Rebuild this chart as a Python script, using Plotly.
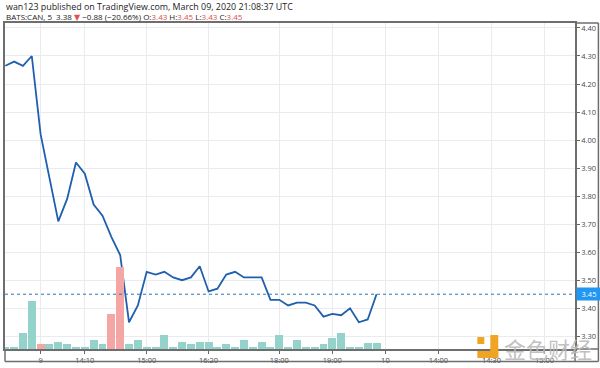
import plotly.graph_objects as go

# ---- data (5-minute bars, index-based x like TradingView) ----
price = [4.265, 4.28, 4.265, 4.30, 4.02, 3.86, 3.71, 3.79, 3.92, 3.88,
         3.77, 3.73, 3.655, 3.59, 3.35, 3.41, 3.53, 3.52, 3.53, 3.51,
         3.50, 3.51, 3.55, 3.46, 3.47, 3.52, 3.53, 3.51, 3.51, 3.51,
         3.43, 3.43, 3.41, 3.42, 3.42, 3.41, 3.37, 3.38, 3.375, 3.40,
         3.35, 3.36, 3.45]
volume = [1700, 1700, 16000, 48000, 4700, 4700, 6700, 4700, 2000, 2000,
          9000, 4700, 35000, 82000, 5500, 9000, 1700, 1700, 14000, 1700,
          6700, 4700, 6700, 6700, 1700, 4700, 1700, 8700, 1700, 6700,
          1700, 14000, 1700, 8700, 1700, 1700, 4700, 11300, 16000, 1700,
          1700, 6300, 6300]
down_bars = [4, 12, 13]
x_tick_pos = [4, 9, 16, 23, 31, 37, 43, 49, 55, 61]
x_tick_text = ["9", "14:10", "15:00", "16:20", "18:00", "19:00", "10", "14:00", "14:30", "15:00"]
y_ticks = [3.30, 3.40, 3.50, 3.60, 3.70, 3.80, 3.90, 4.00, 4.10, 4.20, 4.30, 4.40]
last_price = 3.45

idx = list(range(len(price)))
bar_colors = ["#f5a5a3" if i in down_bars else "#93d3cc" for i in idx]

# ---- geometry helpers (pixels -> paper) ----
W, H = 600, 368
L, R, T, B = 3, 25, 23, 18
PW, PH = W - L - R, H - T - B
def px(p):
    return (p - L) / PW
def py(q):
    return (H - B - q) / PH

fig = go.Figure()
fig.add_trace(go.Bar(x=idx, y=volume, marker=dict(color=bar_colors, line=dict(width=0)),
                     width=0.9, yaxis="y2", showlegend=False, hoverinfo="skip"))
fig.add_trace(go.Scatter(x=idx, y=price, mode="lines",
                         line=dict(color="#1f5fae", width=1.8), showlegend=False))

grid = "#e8ecf1"
line_c = "#6e6e6e"
axis_font = dict(family="Open Sans, DejaVu Sans, sans-serif", size=7.5, color="#4a4a4a")
fig.update_layout(
    width=W, height=H, margin=dict(l=L, r=R, t=T, b=B),
    paper_bgcolor="white", plot_bgcolor="white",
    bargap=0,
    xaxis=dict(range=[-0.03, 64.45], tickvals=x_tick_pos, ticktext=x_tick_text,
               showgrid=True, gridcolor=grid, gridwidth=1, zeroline=False,
               ticks="outside", ticklen=3, tickcolor="#666", tickfont=axis_font,
               showline=True, linecolor=line_c, linewidth=1.5, mirror=True),
    yaxis=dict(range=[3.2546, 4.4177], side="right", tickvals=y_ticks,
               ticktext=[f"{v:.2f}" for v in y_ticks],
               showgrid=True, gridcolor=grid, gridwidth=1, zeroline=False,
               ticks="outside", ticklen=3, tickcolor="#666", tickfont=axis_font,
               showline=True, linecolor=line_c, linewidth=1.5, mirror=True),
    yaxis2=dict(range=[0, 327000], overlaying="y", visible=False),
)

lw = dict(color=line_c, width=1.5)
shapes = [
    # outer frame extensions (bottom strip and right axis strip)
    dict(type="line", xref="paper", yref="paper", x0=1, x1=px(598.5), y0=1, y1=1, line=lw, layer="above"),
    dict(type="line", xref="paper", yref="paper", x0=1, x1=px(598.5), y0=0, y1=0, line=lw, layer="above"),
    dict(type="line", xref="paper", yref="paper", x0=px(598.5), x1=px(598.5), y0=py(362.5), y1=1, line=lw, layer="above"),
    dict(type="line", xref="paper", yref="paper", x0=0, x1=px(598.5), y0=py(362.5), y1=py(362.5), line=lw, layer="above"),
    dict(type="line", xref="paper", yref="paper", x0=0, x1=0, y0=py(362.5), y1=0, line=lw, layer="above"),
    dict(type="line", xref="paper", yref="paper", x0=1, x1=1, y0=py(362.5), y1=0, line=lw, layer="above"),
    # last price dotted line
    dict(type="line", xref="paper", yref="y", x0=0, x1=1, y0=last_price, y1=last_price,
         line=dict(color="#2a75b8", width=1, dash="dot"), layer="above"),
    # watermark logo
    dict(type="rect", xref="paper", yref="paper", x0=px(477), x1=px(484), y0=py(345), y1=py(338),
         fillcolor="#f0a424", line=dict(width=0), layer="above"),
    dict(type="rect", xref="paper", yref="paper", x0=px(490), x1=px(498), y0=py(359), y1=py(336),
         fillcolor="#f0a424", line=dict(width=0), layer="above"),
    dict(type="rect", xref="paper", yref="paper", x0=px(477), x1=px(498), y0=py(359), y1=py(352),
         fillcolor="#f0a424", line=dict(width=0), layer="above"),
]
fig.update_layout(shapes=shapes)

red = "#e0504c"
fig.add_annotation(xref="paper", yref="paper", x=px(2), y=py(6), xanchor="left", yanchor="middle",
                   text="wan123 published on TradingView.com, March 09, 2020 21:08:37 UTC",
                   showarrow=False, font=dict(family="Open Sans, DejaVu Sans, sans-serif", size=8.9, color="#222"))
fig.add_annotation(xref="paper", yref="paper", x=px(2), y=py(16), xanchor="left", yanchor="middle",
                   text=(f"BATS:CAN, 5  3.38 <span style='color:{red}'>▼</span> −0.88 (−20.66%) "
                         f"O:<span style='color:{red}'>3.43</span> H:<span style='color:{red}'>3.45</span> "
                         f"L:<span style='color:{red}'>3.43</span> C:<span style='color:{red}'>3.45</span>"),
                   showarrow=False, font=dict(family="Open Sans, DejaVu Sans, sans-serif", size=8, color="#222"))
fig.add_annotation(xref="paper", yref="y", x=1, y=last_price, xanchor="left", yanchor="middle",
                   text=f"{last_price:.2f}", showarrow=False, bgcolor="#2196f3",
                   font=dict(family="Open Sans, DejaVu Sans, sans-serif", size=7.5, color="white"),
                   borderpad=1, xshift=1, width=22)
fig.add_annotation(xref="paper", yref="paper", x=px(548), y=py(349), xanchor="center", yanchor="middle",
                   text="金色财经", showarrow=False,
                   font=dict(family="Noto Sans CJK SC", size=22, color="rgba(185,185,185,0.9)"))

fig.write_html("out.html", config={"displayModeBar": False},
               post_script="document.body.style.margin='0';document.body.style.overflow='hidden';")
